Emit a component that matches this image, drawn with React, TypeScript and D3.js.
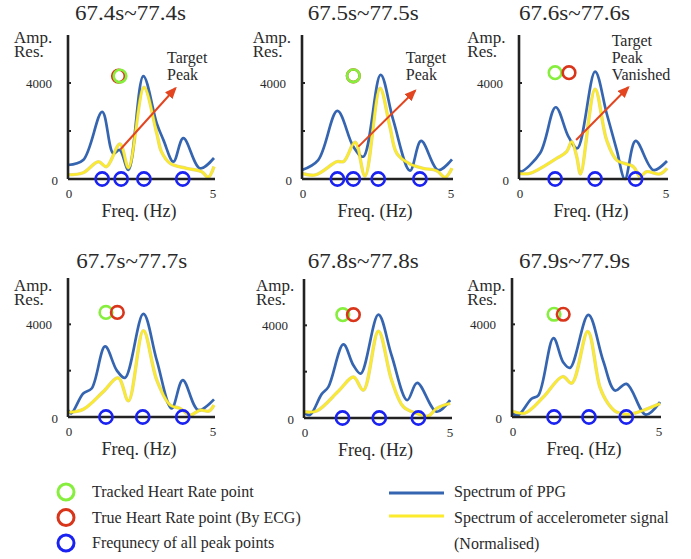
import React from "react";
import * as d3 from "d3";

// window titles
const titles = ["67.4s~77.4s", "67.5s~77.5s", "67.6s~77.6s", "67.7s~77.7s", "67.8s~77.8s", "67.9s~77.9s"];

// spectrum of PPG, [Hz, amplitude]
const ppg1 = [[0, 584], [0.52, 790], [1.17, 2800], [1.55, 1070], [1.77, 1210], [2.07, 375], [2.58, 4290], [3.04, 2320], [3.27, 1620], [3.61, 720], [3.95, 1700], [4.52, 445], [5.0, 875]];
const ppg2 = [[0, 375], [0.54, 790], [1.18, 2835], [1.71, 1350], [2.04, 930], [2.62, 4340], [3.04, 2460], [3.6, 346], [3.97, 1585], [4.54, 375], [5.0, 820]];
const ppg3 = [[0, 375], [0.06, 305], [0.71, 1070], [1.24, 2990], [1.67, 1765], [1.97, 1280], [2.57, 4475], [2.96, 2740], [3.3, 1210], [3.58, 0], [3.94, 1585], [4.54, 375], [5.0, 750]];
const ppg4 = [[0, 300], [0.11, 160], [0.52, 1015], [0.81, 1230], [1.27, 3045], [1.67, 2015], [1.95, 1690], [2.58, 4450], [3.04, 2445], [3.55, 370], [3.93, 1590], [4.46, 300], [5.0, 760]];
const ppg5 = [[0, 230], [0.2, 130], [0.6, 1030], [0.83, 1345], [1.34, 3175], [1.68, 2275], [1.93, 1915], [2.53, 4460], [2.98, 2700], [3.51, 770], [3.85, 1515], [4.51, 270], [4.97, 770]];
const ppg6 = [[0, 170], [0.2, 73], [0.66, 790], [0.89, 930], [1.4, 3405], [1.73, 2360], [1.96, 2120], [2.58, 4405], [3.08, 2430], [3.48, 1145], [3.87, 1430], [4.52, 100], [5.0, 645]];

// spectrum of accelerometer signal (normalised), [Hz, amplitude]
const acc1 = [[0, 170], [0.52, 260], [1.04, 720], [1.32, 515], [1.78, 1460], [2.07, 460], [2.6, 3820], [3.04, 1900], [3.2, 1140], [3.5, 650], [4.06, 445], [4.58, 305], [4.8, 70], [5.0, 515]];
const acc2 = [[0, 236], [0.45, 170], [1.16, 720], [1.39, 730], [1.77, 1530], [2.1, 125], [2.6, 3780], [2.93, 2180], [3.16, 1070], [3.6, 625], [4.04, 445], [4.49, 346], [4.77, 70], [5.0, 445]];
const acc3 = [[0, 236], [0.37, 236], [1.27, 860], [1.61, 1140], [1.78, 1555], [1.95, 930], [2.08, 210], [2.57, 3740], [2.96, 1625], [3.3, 790], [3.86, 515], [4.09, 96], [4.31, 305], [4.76, 210], [5.0, 445]];
const acc4 = [[0, 200], [0.52, 330], [1.2, 1085], [1.72, 1690], [2.07, 700], [2.58, 3730], [3.04, 1590], [3.5, 515], [3.84, 370], [4.18, 85], [4.53, 300], [4.82, 250], [5.0, 515]];
const acc5 = [[0, 270], [0.43, 300], [1.2, 1200], [1.68, 1770], [2.02, 1200], [2.53, 3745], [2.98, 1630], [3.38, 485], [3.83, 200], [4.23, 86], [4.51, 415], [4.97, 630]];
const acc6 = [[0, 260], [0.44, 170], [1.06, 860], [1.71, 1745], [2.02, 1460], [2.56, 3690], [2.97, 1290], [3.25, 575], [3.53, 215], [3.95, 115], [4.44, 290], [5.0, 575]];

const ppgSeries = [ppg1, ppg2, ppg3, ppg4, ppg5, ppg6];
const accSeries = [acc1, acc2, acc3, acc4, acc5, acc6];

// heart rate points (Hz) and the level they are drawn at
const trackedHR = [1.78, 1.71, 1.22, 1.3, 1.32, 1.42];
const trueHR = [1.73, 1.71, 1.69, 1.69, 1.68, 1.73];
const hrLevel = [4290, 4300, 4430, 4515, 4460, 4435];
const redOnTop = [false, false, true, true, true, true];

// frequency of all peak points (Hz)
const peakFreqs = [
  [1.17, 1.82, 2.6, 3.93],
  [1.18, 1.71, 2.54, 3.93],
  [1.22, 2.57, 3.94],
  [1.3, 2.56, 3.93],
  [1.31, 2.56, 3.89],
  [1.42, 2.6, 3.86],
];

// annotation arrows (data coords) and notes
const arrowFrom = [[1.8, 1240], [1.88, 1350], [1.93, 1625]];
const arrowTo = [[3.68, 3780], [3.77, 3680], [3.69, 3820]];
const notes = [["Target", "Peak"], ["Target", "Peak"], ["Target", "Peak", "Vanished"]];
const noteAt = [[3.39, 4840], [3.46, 4840], [3.13, 5546]];

// layout of the six panels in pixels
const panels = [
  { x0: 68, x1: 214, base: 179, top: 35, tx: 130.5, ty: 20, lx: 14, ly: 43 },
  { x0: 302, x1: 452, base: 179, top: 35, tx: 363.3, ty: 20, lx: 252.7, ly: 43 },
  { x0: 519, x1: 667, base: 179, top: 35, tx: 574.5, ty: 20, lx: 467.3, ly: 43 },
  { x0: 68, x1: 214, base: 417, top: 278, tx: 131.7, ty: 268, lx: 14, ly: 291 },
  { x0: 304, x1: 451, base: 418, top: 279, tx: 363.3, ty: 268, lx: 256, ly: 291 },
  { x0: 512, x1: 660, base: 417, top: 278, tx: 574.5, ty: 268, lx: 467.3, ly: 291 },
];

const FONT = "Liberation Serif, Times New Roman, DejaVu Serif, serif";
const BLUE_LINE = "#3565b0";
const YELLOW = "#fbeb2c";
const GREEN = "#86ee3c";
const RED = "#d9351a";
const PEAK_BLUE = "#1a22f2";
const ARROW = "#e2451f";
const INK = "#2a2a2a";

function Panel({ i }: { i: number }) {
  const p = panels[i];
  const x = d3.scaleLinear().domain([0, 5]).range([p.x0, p.x1]);
  const y = d3.scaleLinear().domain([0, 6000]).range([p.base, p.top]);
  const line = d3
    .line<number[]>()
    .x((d) => x(d[0]))
    .y((d) => Math.min(y(d[1]), p.base))
    .curve(d3.curveCatmullRom.alpha(0.5));

  const green = (
    <circle key="g" cx={x(trackedHR[i])} cy={y(hrLevel[i])} r={6.3} fill="none" stroke={GREEN} strokeWidth={2.6} />
  );
  const red = <circle key="r" cx={x(trueHR[i])} cy={y(hrLevel[i])} r={6.3} fill="none" stroke={RED} strokeWidth={2.6} />;

  return (
    <g>
      <text x={p.tx} y={p.ty} textAnchor="middle" fontSize={20} textLength={111} lengthAdjust="spacingAndGlyphs" fill={INK}>
        {titles[i]}
      </text>
      <text x={p.lx} y={p.ly} fontSize={17} fill={INK}>Amp.</text>
      <text x={p.lx} y={p.ly + 14} fontSize={17} fill={INK}>Res.</text>

      {/* y tick labels */}
      <text x={p.x0 - 16} y={y(4000) + 4.5} textAnchor="end" fontSize={13} fill={INK}>4000</text>
      <text x={p.x0 - 10} y={p.base + 6} textAnchor="end" fontSize={13} fill={INK}>0</text>
      {/* x tick labels */}
      <text x={x(0) + 1} y={p.base + 19} textAnchor="middle" fontSize={13} fill={INK}>0</text>
      <text x={x(5) - 1} y={p.base + 19} textAnchor="middle" fontSize={13} fill={INK}>5</text>
      <text x={(p.x0 + p.x1) / 2 - 2} y={p.base + 38} textAnchor="middle" fontSize={18} fill={INK}>Freq. (Hz)</text>

      {/* curves */}
      <path d={line(ppgSeries[i]) || ""} fill="none" stroke={BLUE_LINE} strokeWidth={2.7} />
      <path d={line(accSeries[i]) || ""} fill="none" stroke="#c9b63a" strokeOpacity={0.55} strokeWidth={3.4} />
      <path d={line(accSeries[i]) || ""} fill="none" stroke={YELLOW} strokeWidth={2.3} />

      {/* axes */}
      <line x1={p.x0} x2={p.x0} y1={p.top} y2={p.base} stroke="#222" strokeWidth={2.6} />
      <line x1={p.x0} x2={p.x1 + 1} y1={p.base} y2={p.base} stroke="#222" strokeWidth={2.6} />
      {[2000, 4000].map((t) => (
        <line key={t} x1={p.x0} x2={p.x0 + 3} y1={y(t)} y2={y(t)} stroke="#222" strokeWidth={2} />
      ))}

      {/* annotation */}
      {i < 3 && (
        <g>
          <line
            x1={x(arrowFrom[i][0])}
            y1={y(arrowFrom[i][1])}
            x2={x(arrowTo[i][0])}
            y2={y(arrowTo[i][1])}
            stroke={ARROW}
            strokeWidth={2}
            markerEnd="url(#arrowHead)"
          />
          {notes[i].map((s, k) => (
            <text key={s} x={x(noteAt[i][0])} y={y(noteAt[i][1]) + k * 17} fontSize={16} fill={INK}>
              {s}
            </text>
          ))}
        </g>
      )}

      {/* peak points */}
      {peakFreqs[i].map((f) => (
        <circle key={f} cx={x(f)} cy={y(0)} r={6.6} fill="none" stroke={PEAK_BLUE} strokeWidth={2.6} />
      ))}

      {redOnTop[i] ? [green, red] : [red, green]}
    </g>
  );
}

const legendMarkers = [
  { label: "Tracked Heart Rate point", color: GREEN },
  { label: "True Heart Rate point (By ECG)", color: RED },
  { label: "Frequnecy of all peak points", color: PEAK_BLUE },
];
const legendLines = [
  { label: "Spectrum of PPG", color: BLUE_LINE },
  { label: "Spectrum of accelerometer signal", color: YELLOW },
];

export default function App() {
  const rowY = d3.scaleLinear().domain([0, 2]).range([492, 543]);
  return (
    <svg
      width={691}
      height={559}
      style={{ position: "absolute", left: 0, top: 0, background: "#fff", fontFamily: FONT }}
    >
      <defs>
        <marker id="arrowHead" markerUnits="userSpaceOnUse" markerWidth={12} markerHeight={10} refX={10} refY={5} orient="auto">
          <path d="M0,0 L12,5 L0,10 z" fill={ARROW} />
        </marker>
      </defs>
      <rect width={691} height={559} fill="#fff" />
      {panels.map((_, i) => (
        <Panel key={i} i={i} />
      ))}

      {legendMarkers.map((m, k) => (
        <g key={m.label}>
          <circle cx={66} cy={rowY(k)} r={8} fill="none" stroke={m.color} strokeWidth={3} />
          <text x={92} y={rowY(k) + 5} fontSize={16} fill={INK}>{m.label}</text>
        </g>
      ))}
      {legendLines.map((l, k) => (
        <g key={l.label}>
          <line x1={389} x2={444} y1={493 + k * 23} y2={493 + k * 23} stroke={l.color} strokeWidth={3} />
          <text x={454} y={rowY(k) + 5} fontSize={16} fill={INK}>{l.label}</text>
        </g>
      ))}
      <text x={454} y={rowY(2) + 6} fontSize={16} fill={INK}>(Normalised)</text>
    </svg>
  );
}
